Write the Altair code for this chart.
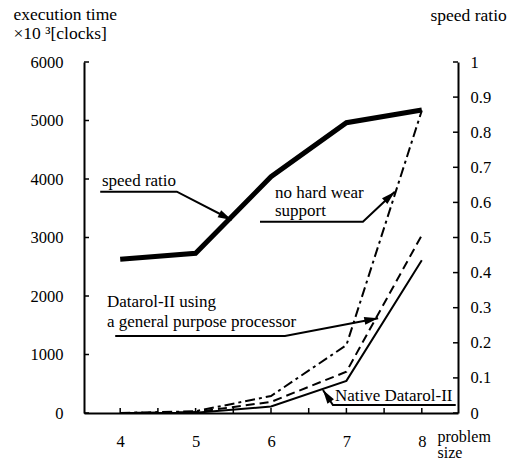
import altair as alt
import pandas as pd

# ---- data ----
problem_size = [4, 5, 6, 7, 8]
native_clocks = [0, 5, 110, 550, 2610]        # x10^3 clocks, Native Datarol-II
general_clocks = [0, 15, 190, 705, 3040]      # Datarol-II using a general purpose processor
no_hw_clocks = [0, 30, 290, 1160, 5170]       # no hard wear support
speed_ratio = [0.438, 0.455, 0.673, 0.827, 0.863]

x_label_values = [4, 5, 6, 7, 8]
x_tick_values = [4, 4.5, 5, 5.5, 6, 6.5, 7, 7.5, 8]
left_tick_values = [0, 1000, 2000, 3000, 4000, 5000, 6000]
right_tick_values = [0, 0.1, 0.2, 0.3, 0.4, 0.5, 0.6, 0.7, 0.8, 0.9, 1.0]

# annotation leader lines (data coordinates), last point = arrow tip
ann_names = ["speed ratio", "no hard wear", "general", "native"]
ann_x = [[3.735, 4.751, 5.479], [5.854, 7.219, 7.642], [3.934, 6.185, 7.421], [8.45, 6.821, 6.689]]
ann_y = [[3783, 3783, 3299], [3270, 3270, 3783], [1316, 1316, 1619], [137, 137, 393]]
arrow_angles = [117, 47, 79, 326]

label_text = ["speed ratio", "no hard wear", "support", "Datarol-II using",
              "a general purpose processor", "Native Datarol-II"]
label_x = [3.758, 6.053, 6.053, 3.824, 3.824, 6.848]
label_y = [3966, 3760, 3455, 1890, 1561, 291]

# ---- tables ----
series = pd.DataFrame({"size": problem_size, "native": native_clocks,
                       "general": general_clocks, "nohw": no_hw_clocks,
                       "ratio": speed_ratio})
ann_rows = []
for name, xs_, ys_ in zip(ann_names, ann_x, ann_y):
    for i, (xv, yv) in enumerate(zip(xs_, ys_)):
        ann_rows.append({"grp": name, "ord": i, "x": xv, "y": yv})
ann_df = pd.DataFrame(ann_rows)
tips_df = pd.DataFrame({"x": [a[-1] for a in ann_x], "y": [b[-1] for b in ann_y],
                        "ang": arrow_angles})
labels_df = pd.DataFrame({"t": label_text, "x": label_x, "y": label_y})
xt_df = pd.DataFrame({"v": x_tick_values})
lt_df = pd.DataFrame({"v": left_tick_values})
rt_df = pd.DataFrame({"v": right_tick_values})

W, H = 374, 351
FONT = "Liberation Serif"
xs = alt.Scale(domain=[3.52, 8.48], nice=False, zero=False)
yl = alt.Scale(domain=[0, 6000], nice=False)
yr = alt.Scale(domain=[0, 1], nice=False)

x_axis = alt.Axis(values=x_label_values, ticks=False, grid=False,
                  domainColor="black", domainWidth=2, labelFont=FONT, labelFontSize=16.5,
                  labelColor="black", labelPadding=20,
                  title=["problem", "size"], titleFont=FONT, titleFontSize=16,
                  titleFontWeight="normal", titleColor="black", titleAngle=0,
                  titleAlign="left", titleBaseline="top", titleX=353, titleY=15,
                  titleLineHeight=16.5)
yl_axis = alt.Axis(values=left_tick_values, ticks=False, grid=False,
                   domainColor="black", domainWidth=2, labelFont=FONT, labelFontSize=16.5,
                   labelColor="black", labelPadding=21, labelExpr="datum.value",
                   title=["execution time", "\u00d710 \u00b3[clocks]"], titleFont=FONT,
                   titleFontSize=17.5, titleFontWeight="normal", titleColor="black",
                   titleAngle=0, titleAlign="left", titleBaseline="top",
                   titleX=-71, titleY=-57, titleLineHeight=19)
yr_axis = alt.Axis(values=right_tick_values, ticks=False, grid=False,
                   orient="right", domainColor="black", domainWidth=2, labelFont=FONT,
                   labelFontSize=16.5, labelColor="black", labelPadding=12,
                   labelExpr="format(datum.value, '.1~f')",
                   title="speed ratio", titleFont=FONT, titleFontSize=17.5,
                   titleFontWeight="normal", titleColor="black", titleAngle=0,
                   titleAlign="left", titleBaseline="top", titleX=-28, titleY=-56)

X = lambda f: alt.X(f, scale=xs, axis=x_axis)

base = alt.Chart(series)

native_line = base.mark_line(color="black", strokeWidth=2).encode(
    x=X("size:Q"), y=alt.Y("native:Q", scale=yl, axis=yl_axis))
general_line = base.mark_line(color="black", strokeWidth=2, strokeDash=[9, 5]).encode(
    x=X("size:Q"), y=alt.Y("general:Q", scale=yl, axis=None))
nohw_line = base.mark_line(color="black", strokeWidth=2, strokeDash=[10, 4, 3, 4]).encode(
    x=X("size:Q"), y=alt.Y("nohw:Q", scale=yl, axis=None))
ratio_line = base.mark_line(color="black", strokeWidth=5, strokeJoin="miter").encode(
    x=X("size:Q"), y=alt.Y("ratio:Q", scale=yr, axis=yr_axis))

ann_lines = alt.Chart(ann_df).mark_line(color="black", strokeWidth=2, strokeJoin="miter").encode(
    x=X("x:Q"), y=alt.Y("y:Q", scale=yl, axis=None),
    detail="grp:N", order="ord:Q")
arrows = alt.Chart(tips_df).mark_point(
    shape="M0,0L-0.45,1.6L0.45,1.6Z", filled=True, color="black", size=300, opacity=1,
    strokeWidth=0).encode(
    x=X("x:Q"), y=alt.Y("y:Q", scale=yl, axis=None),
    angle=alt.Angle("ang:Q", scale=None))
labels = alt.Chart(labels_df).mark_text(font=FONT, fontSize=17, color="black",
                                        align="left", baseline="middle").encode(
    x=X("x:Q"), y=alt.Y("y:Q", scale=yl, axis=None), text="t:N")
left_ticks = alt.Chart(lt_df).mark_rule(color="black", strokeWidth=1.5).encode(
    y=alt.Y("v:Q", scale=yl, axis=None), x=alt.value(0), x2=alt.value(5))
right_ticks = alt.Chart(rt_df).mark_rule(color="black", strokeWidth=1.5).encode(
    y=alt.Y("v:Q", scale=yr, axis=None), x=alt.value(W - 5), x2=alt.value(W))
bottom_ticks = alt.Chart(xt_df).mark_rule(color="black", strokeWidth=1.5).encode(
    x=X("v:Q"), y=alt.value(H - 5), y2=alt.value(H))

chart = alt.layer(native_line, ratio_line, general_line, nohw_line, ann_lines, arrows,
                  labels, left_ticks, right_ticks, bottom_ticks).resolve_scale(
    y="independent").properties(
    width=W, height=H,
    autosize=alt.AutoSizeParams(type="none"),
    padding={"left": 84, "top": 62, "right": 58, "bottom": 49},
    background="white",
).configure_view(stroke=None)

chart.save("out.html", embed_options={"renderer": "svg", "actions": False})
